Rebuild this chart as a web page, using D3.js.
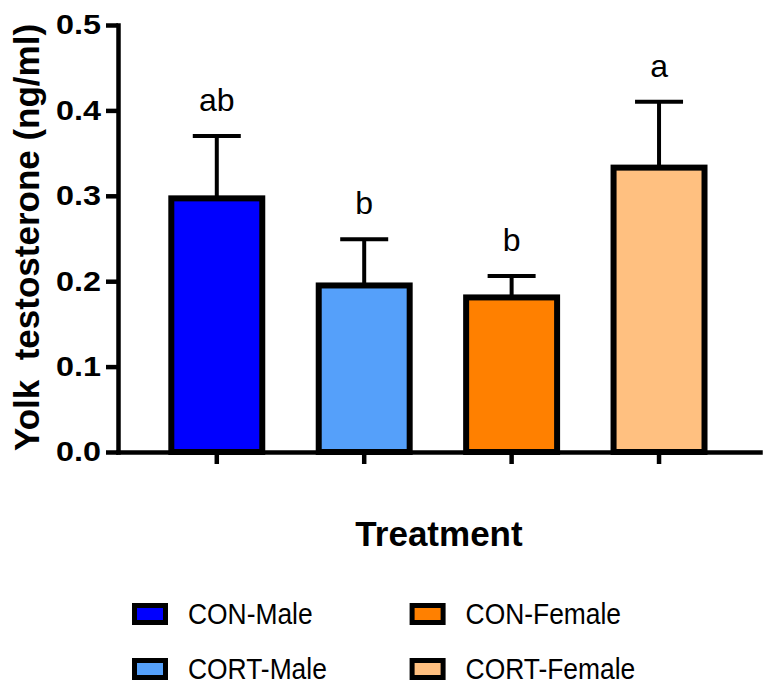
<!DOCTYPE html>
<html>
<head>
<meta charset="utf-8">
<script src="https://cdn.jsdelivr.net/npm/d3@7"></script>
<style>
  body { margin: 0; background: #fff; }
  text { font-family: "Liberation Sans", Arial, sans-serif; }
</style>
</head>
<body>
<div id="chart"></div>
<script>
// data
var categories = ["CON-Male", "CORT-Male", "CON-Female", "CORT-Female"];
var means = [0.297, 0.195, 0.181, 0.333];
var sems = [0.073, 0.054, 0.025, 0.077];
var letters = ["ab", "b", "b", "a"];
var colors = ["#0000ff", "#55a0fa", "#ff8000", "#ffc080"];
var yTicks = [0, 0.1, 0.2, 0.3, 0.4, 0.5];

var width = 776, height = 686;

var svg = d3.select("#chart")
  .append("svg")
    .attr("width", width)
    .attr("height", height);

var x = d3.scaleBand()
  .domain(categories)
  .range([118, 760])
  .paddingInner(0.383)
  .paddingOuter(0.369)
  .align(0.49);

var y = d3.scaleLinear()
  .domain([0, 0.5])
  .range([452, 25]);

// error bars first, bars cover the lower end
var err = svg.append("g")
  .attr("stroke", "#000")
  .attr("stroke-width", 4);

categories.forEach(function(c, i) {
  var cx = x(c) + x.bandwidth() / 2;
  err.append("line")
    .attr("x1", cx).attr("x2", cx)
    .attr("y1", y(means[i])).attr("y2", y(means[i] + sems[i]));
  err.append("line")
    .attr("x1", cx - 24).attr("x2", cx + 24)
    .attr("y1", y(means[i] + sems[i])).attr("y2", y(means[i] + sems[i]));
});

svg.append("g")
  .selectAll("rect")
  .data(categories)
  .join("rect")
    .attr("x", function(d) { return x(d) })
    .attr("width", x.bandwidth())
    .attr("y", function(d, i) { return y(means[i]) })
    .attr("height", function(d, i) { return y(0) - y(means[i]) })
    .attr("fill", function(d, i) { return colors[i] })
    .attr("stroke", "#000")
    .attr("stroke-width", 6);

// significance letters
svg.append("g")
  .selectAll("text")
  .data(letters)
  .join("text")
    .attr("x", function(d, i) { return x(categories[i]) + x.bandwidth() / 2 })
    .attr("y", function(d, i) { return y(means[i] + sems[i]) - 25 })
    .attr("text-anchor", "middle")
    .attr("font-size", 32)
    .text(function(d) { return d });

// Y axis
var yAxis = svg.append("g")
  .attr("transform", "translate(118,0)")
  .call(d3.axisLeft(y).tickValues(yTicks).tickFormat(d3.format(".1f")).tickSize(12).tickSizeOuter(0).tickPadding(5));

// X axis
var xAxis = svg.append("g")
  .attr("transform", "translate(0,452)")
  .call(d3.axisBottom(x).tickFormat("").tickSize(12).tickSizeOuter(0));

[yAxis, xAxis].forEach(function(a) {
  a.select(".domain").attr("stroke-width", 4.5).attr("stroke-linecap", "square");
  a.selectAll(".tick line").attr("stroke-width", 4.5);
});

yAxis.selectAll(".tick text")
  .attr("font-family", "Liberation Sans, Arial, sans-serif")
  .attr("font-size", 28)
  .attr("font-weight", "bold")
  .attr("fill", "#000")
  .attr("textLength", 45)
  .attr("lengthAdjust", "spacingAndGlyphs");

// axis titles
svg.append("text")
  .attr("transform", "translate(39,237.5) rotate(-90)")
  .attr("text-anchor", "middle")
  .attr("font-size", 35)
  .attr("font-weight", "bold")
  .style("white-space", "pre")
  .text("Yolk  testosterone (ng/ml)");

svg.append("text")
  .attr("x", 439)
  .attr("y", 546)
  .attr("text-anchor", "middle")
  .attr("font-size", 35)
  .attr("font-weight", "bold")
  .text("Treatment");

// legend, two columns
var legend = svg.append("g")
  .selectAll("g")
  .data(categories)
  .join("g")
    .attr("transform", function(d, i) {
      return "translate(" + (132 + Math.floor(i / 2) * 277.6) + "," + (603 + (i % 2) * 55) + ")";
    });

legend.append("rect")
  .attr("x", 2.5).attr("y", 2.5)
  .attr("width", 31).attr("height", 17)
  .attr("fill", function(d, i) { return colors[i] })
  .attr("stroke", "#000")
  .attr("stroke-width", 5);

legend.append("text")
  .attr("transform", "translate(56,21) scale(0.88,1)")
  .attr("font-size", 30)
  .text(function(d) { return d });
</script>
</body>
</html>
